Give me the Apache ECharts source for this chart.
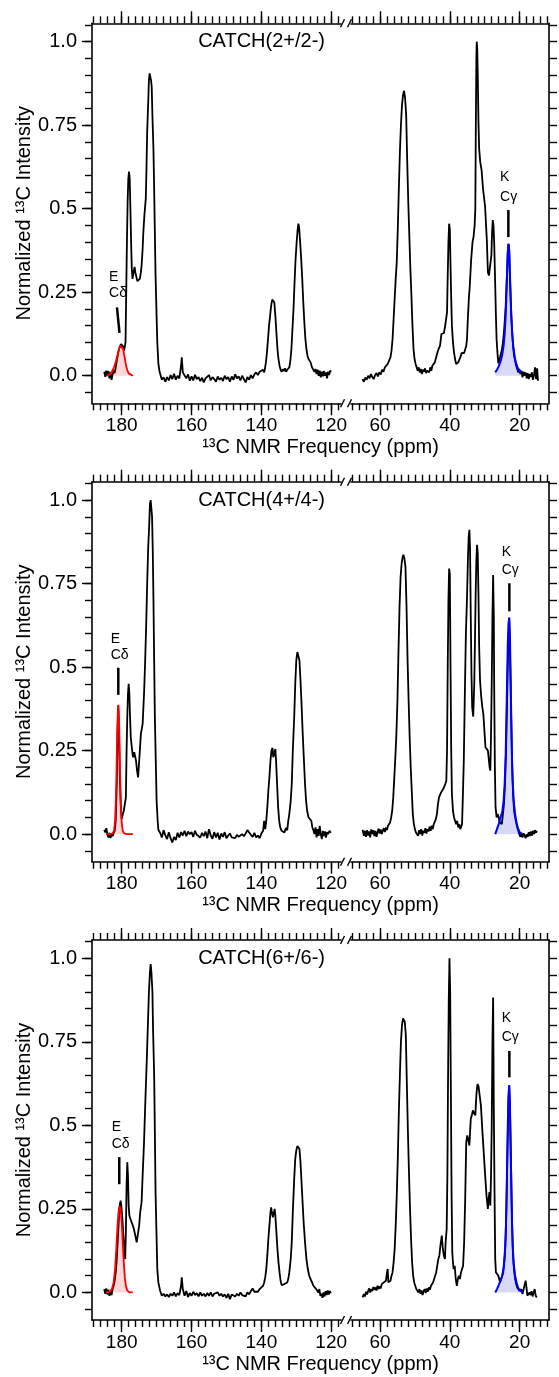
<!DOCTYPE html>
<html><head><meta charset="utf-8">
<script src="https://cdn.jsdelivr.net/npm/echarts@6/dist/echarts.min.js"></script>
<style>html,body{margin:0;padding:0;background:#fff}#c{width:559px;height:1377px}</style>
</head><body><div id="c"></div>
<script>
// ---------------- DATA (ppm, normalized intensity) ----------------
const panelTitles = ['CATCH(2+/2-)', 'CATCH(4+/4-)', 'CATCH(6+/6-)'];

const p1Left = [[185.0,0.012],[184.7,-0.003],[184.4,0.015],[184.1,0.000],[183.8,0.014],[183.5,-0.008],[183.2,0.010],[182.9,-0.012],[182.6,0.004],[182.3,0.016],[182.0,0.008],[181.7,0.025],[181.4,0.045],[181.1,0.062],[180.8,0.078],[180.5,0.088],[180.2,0.095],[179.9,0.098],[179.6,0.088],[179.3,0.075],[179.1,0.070],[178.9,0.100],[178.7,0.250],[178.5,0.400],[178.3,0.520],[178.1,0.590],[177.9,0.611],[177.7,0.590],[177.5,0.500],[177.3,0.400],[177.1,0.320],[176.9,0.290],[176.7,0.292],[176.5,0.315],[176.3,0.326],[176.1,0.310],[175.8,0.296],[175.5,0.283],[175.3,0.280],[175.0,0.283],[174.8,0.290],[174.5,0.310],[174.3,0.330],[174.0,0.380],[173.8,0.430],[173.5,0.480],[173.1,0.530],[172.9,0.620],[172.7,0.730],[172.4,0.820],[172.2,0.885],[172.0,0.905],[171.8,0.905],[171.6,0.885],[171.4,0.865],[171.2,0.780],[170.9,0.676],[170.7,0.560],[170.5,0.426],[170.3,0.300],[170.0,0.177],[169.8,0.100],[169.5,0.037],[169.2,0.015],[169.0,0.007],[168.5,-0.012],[168.0,-0.005],[167.5,-0.018],[167.0,-0.004],[166.5,-0.014],[166.0,0.002],[165.5,-0.010],[165.0,0.006],[164.5,-0.012],[164.0,0.000],[163.5,-0.008],[163.0,0.030],[162.8,0.055],[162.5,0.010],[162.0,0.012],[161.5,-0.008],[161.0,0.004],[160.5,-0.015],[160.0,-0.002],[159.5,-0.014],[159.0,0.003],[158.5,-0.010],[158.0,-0.004],[157.5,-0.016],[157.0,-0.006],[156.5,-0.020],[156.0,-0.008],[155.5,-0.012],[155.0,0.002],[154.5,-0.014],[154.0,-0.004],[153.5,-0.010],[153.0,-0.018],[152.5,-0.002],[152.0,-0.012],[151.5,-0.006],[151.0,-0.016],[150.5,0.000],[150.0,-0.010],[149.5,-0.004],[149.0,-0.018],[148.5,-0.002],[148.0,-0.012],[147.5,0.004],[147.0,-0.008],[146.5,-0.002],[146.0,-0.014],[145.5,0.000],[145.0,-0.010],[144.5,-0.020],[144.0,-0.004],[143.5,-0.012],[143.0,0.002],[142.5,-0.008],[142.0,0.004],[141.5,0.010],[141.0,0.002],[140.5,0.012],[140.0,0.008],[139.5,0.018],[139.2,0.010],[139.0,0.020],[138.7,0.040],[138.4,0.070],[138.1,0.110],[137.8,0.150],[137.5,0.180],[137.2,0.210],[136.9,0.228],[136.6,0.232],[136.3,0.220],[136.0,0.180],[135.7,0.130],[135.4,0.080],[135.1,0.050],[134.8,0.030],[134.5,0.018],[134.2,0.012],[133.8,0.020],[133.5,0.014],[133.2,0.022],[132.9,0.012],[132.6,0.018],[132.3,0.020],[132.0,0.025],[131.7,0.045],[131.4,0.080],[131.1,0.140],[130.8,0.200],[130.5,0.280],[130.2,0.350],[129.9,0.400],[129.6,0.440],[129.4,0.455],[129.2,0.445],[128.9,0.400],[128.6,0.350],[128.3,0.290],[128.0,0.220],[127.7,0.160],[127.4,0.110],[127.1,0.080],[126.8,0.060],[126.5,0.050],[126.2,0.045],[125.9,0.040],[125.5,0.025],[125.1,0.030],[124.8,0.012],[124.5,0.020],[124.2,0.005],[123.9,0.018],[123.6,0.000],[123.3,0.015],[123.0,-0.005],[122.7,0.012],[122.4,-0.002],[122.1,0.014],[121.8,0.000],[121.5,0.010],[121.2,-0.008],[120.9,0.012],[120.6,0.002],[120.3,0.016],[120.1,0.010]];

const p1Right = [[65.0,-0.010],[64.6,-0.018],[64.2,-0.005],[63.8,-0.012],[63.4,0.000],[63.0,-0.008],[62.6,0.005],[62.2,-0.004],[61.8,-0.010],[61.4,0.002],[61.0,0.008],[60.6,-0.002],[60.2,0.010],[59.8,0.004],[59.4,0.018],[59.0,0.012],[58.6,0.025],[58.2,0.020],[57.8,0.035],[57.4,0.045],[57.0,0.055],[56.7,0.075],[56.4,0.110],[56.1,0.170],[55.8,0.230],[55.5,0.290],[55.2,0.340],[54.9,0.440],[54.6,0.560],[54.3,0.670],[54.0,0.750],[53.7,0.810],[53.4,0.840],[53.1,0.853],[52.8,0.830],[52.5,0.780],[52.2,0.640],[51.9,0.520],[51.6,0.420],[51.3,0.320],[51.0,0.240],[50.7,0.150],[50.4,0.080],[50.1,0.050],[49.8,0.035],[49.5,0.030],[49.2,0.015],[48.9,0.025],[48.6,0.010],[48.3,0.020],[48.0,0.005],[47.7,0.018],[47.4,0.012],[47.1,0.022],[46.8,0.008],[46.5,0.015],[46.2,0.020],[45.9,0.010],[45.6,0.025],[45.3,0.015],[45.0,0.030],[44.7,0.028],[44.3,0.040],[43.8,0.060],[43.4,0.075],[42.8,0.090],[42.4,0.125],[42.0,0.130],[41.7,0.128],[41.4,0.145],[41.1,0.150],[40.8,0.190],[40.6,0.300],[40.4,0.400],[40.2,0.455],[40.0,0.440],[39.8,0.330],[39.6,0.230],[39.4,0.150],[39.1,0.100],[38.8,0.070],[38.5,0.050],[38.2,0.035],[37.9,0.030],[37.6,0.040],[37.3,0.045],[37.0,0.055],[36.6,0.068],[36.2,0.065],[35.9,0.068],[35.6,0.070],[35.3,0.090],[35.1,0.107],[34.8,0.180],[34.5,0.240],[34.3,0.266],[33.9,0.346],[33.5,0.400],[33.2,0.416],[32.9,0.450],[32.7,0.500],[32.55,0.750],[32.4,0.950],[32.3,1.000],[32.15,0.980],[32.0,0.900],[31.8,0.760],[31.6,0.680],[31.3,0.640],[30.9,0.615],[30.5,0.560],[29.9,0.506],[29.4,0.406],[29.1,0.310],[28.8,0.300],[28.4,0.297],[28.1,0.360],[27.9,0.430],[27.7,0.466],[27.5,0.450],[27.3,0.400],[27.0,0.270],[26.8,0.180],[26.6,0.107],[26.3,0.060],[26.1,0.037],[25.8,0.050],[25.6,0.057],[25.1,0.077],[24.8,0.100],[24.5,0.130],[24.2,0.175],[24.0,0.210],[23.7,0.290],[23.4,0.370],[23.2,0.395],[23.0,0.380],[22.8,0.300],[22.5,0.210],[22.2,0.140],[21.9,0.090],[21.6,0.060],[21.3,0.045],[21.0,0.030],[20.7,0.020],[20.4,0.010],[20.1,0.020],[19.8,0.005],[19.5,0.015],[19.2,-0.005],[18.9,0.012],[18.6,0.000],[18.3,0.010],[18.0,-0.008],[17.7,0.008],[17.4,-0.010],[17.1,0.005],[16.8,-0.004],[16.5,0.010],[16.2,-0.012],[15.9,0.002],[15.6,0.025],[15.3,-0.010],[15.0,0.022],[14.75,-0.015]];

const p1Red = [[184.3,0.000],[183.5,0.004],[182.8,0.012],[182.2,0.025],[181.7,0.042],[181.2,0.062],[180.8,0.080],[180.4,0.090],[180.0,0.092],[179.6,0.080],[179.2,0.058],[178.8,0.033],[178.4,0.017],[178.0,0.007],[177.5,0.002],[176.8,0.000]];

const p1Blue = [[27.0,0.010],[26.5,0.018],[26.0,0.028],[25.5,0.042],[25.0,0.062],[24.6,0.090],[24.3,0.125],[24.0,0.180],[23.8,0.240],[23.6,0.310],[23.4,0.370],[23.2,0.395],[23.0,0.375],[22.8,0.310],[22.6,0.240],[22.4,0.175],[22.1,0.120],[21.8,0.085],[21.4,0.055],[21.0,0.036],[20.5,0.022],[20.0,0.014],[19.6,0.010]];

const p2Left = [[185.0,0.013],[184.7,0.005],[184.4,0.018],[184.1,0.000],[183.8,-0.010],[183.5,0.004],[183.2,-0.012],[182.9,0.002],[182.6,-0.006],[182.3,0.003],[182.0,0.010],[181.7,0.040],[181.4,0.150],[181.2,0.300],[181.0,0.385],[180.8,0.320],[180.6,0.200],[180.3,0.090],[180.0,0.045],[179.7,0.050],[179.4,0.070],[179.1,0.090],[178.8,0.110],[178.6,0.250],[178.4,0.350],[178.2,0.420],[178.0,0.450],[177.8,0.420],[177.6,0.350],[177.4,0.290],[177.1,0.260],[176.9,0.240],[176.7,0.230],[176.4,0.245],[176.2,0.250],[175.9,0.220],[175.6,0.190],[175.3,0.170],[175.1,0.170],[174.8,0.250],[174.5,0.300],[174.0,0.330],[173.6,0.420],[173.3,0.510],[173.0,0.620],[172.7,0.750],[172.4,0.860],[172.1,0.930],[171.9,0.990],[171.7,1.000],[171.5,0.975],[171.3,0.950],[171.1,0.850],[170.9,0.700],[170.7,0.520],[170.5,0.350],[170.2,0.200],[170.0,0.100],[169.7,0.040],[169.5,0.013],[169.0,0.004],[168.5,-0.010],[168.0,0.012],[167.5,-0.004],[167.0,-0.015],[166.5,0.006],[166.0,-0.012],[165.5,-0.025],[165.0,-0.008],[164.5,-0.018],[164.0,0.004],[163.5,-0.010],[163.0,0.006],[162.5,-0.004],[162.0,0.010],[161.5,-0.006],[161.0,0.008],[160.5,0.000],[160.0,0.006],[159.5,-0.008],[159.0,0.010],[158.5,-0.002],[158.0,0.002],[157.5,-0.010],[157.0,0.004],[156.5,-0.006],[156.0,0.008],[155.5,-0.012],[155.0,0.015],[154.5,-0.004],[154.0,-0.014],[153.5,0.006],[153.0,-0.010],[152.5,0.004],[152.0,-0.016],[151.5,0.002],[151.0,-0.008],[150.5,0.006],[150.0,-0.012],[149.5,-0.004],[149.0,0.002],[148.5,-0.010],[148.0,-0.006],[147.5,-0.012],[147.0,-0.002],[146.5,-0.008],[146.0,-0.004],[145.5,0.000],[145.0,-0.006],[144.5,0.002],[144.0,0.012],[143.5,0.005],[143.0,-0.002],[142.5,-0.008],[142.0,0.004],[141.5,-0.010],[141.0,-0.004],[140.5,-0.012],[140.0,0.002],[139.5,0.010],[139.2,0.040],[138.9,0.015],[138.6,0.040],[138.3,0.080],[138.0,0.130],[137.7,0.170],[137.4,0.220],[137.1,0.250],[136.8,0.258],[136.6,0.230],[136.4,0.225],[136.2,0.245],[136.0,0.255],[135.8,0.220],[135.5,0.150],[135.2,0.080],[134.9,0.040],[134.6,0.020],[134.2,0.010],[133.8,0.015],[133.4,0.005],[133.0,0.018],[132.6,0.012],[132.3,0.040],[132.0,0.060],[131.6,0.100],[131.3,0.150],[131.0,0.250],[130.6,0.350],[130.3,0.450],[130.0,0.520],[129.7,0.545],[129.4,0.550],[129.1,0.520],[128.8,0.460],[128.5,0.390],[128.2,0.310],[127.9,0.240],[127.5,0.150],[127.2,0.100],[126.9,0.070],[126.5,0.050],[126.1,0.045],[125.7,0.040],[125.4,0.020],[125.1,0.012],[124.8,0.000],[124.5,0.020],[124.2,-0.010],[123.9,0.015],[123.6,-0.005],[123.3,0.025],[123.0,0.000],[122.7,-0.015],[122.4,0.010],[122.1,-0.006],[121.8,0.008],[121.5,-0.010],[121.2,0.006],[120.9,0.000],[120.5,0.010],[120.1,0.004]];

const p2Right = [[65.0,0.013],[64.6,-0.005],[64.3,0.010],[64.0,-0.008],[63.7,0.012],[63.4,-0.004],[63.1,0.008],[62.8,-0.010],[62.5,0.014],[62.2,0.000],[61.9,0.012],[61.6,-0.006],[61.3,0.010],[61.0,-0.008],[60.7,0.006],[60.4,0.016],[60.1,0.002],[59.8,0.014],[59.5,0.000],[59.2,0.010],[58.9,0.018],[58.6,0.006],[58.3,0.020],[58.0,0.012],[57.7,0.025],[57.4,0.020],[57.1,0.035],[56.8,0.050],[56.5,0.070],[56.2,0.110],[55.9,0.170],[55.6,0.230],[55.3,0.300],[55.0,0.400],[54.7,0.550],[54.4,0.680],[54.1,0.770],[53.8,0.810],[53.5,0.830],[53.3,0.836],[53.0,0.825],[52.7,0.800],[52.4,0.680],[52.1,0.520],[51.8,0.400],[51.5,0.290],[51.2,0.200],[50.9,0.130],[50.6,0.060],[50.3,0.030],[50.0,0.015],[49.7,0.005],[49.4,0.010],[49.1,-0.005],[48.8,0.012],[48.5,0.000],[48.2,0.015],[47.9,-0.004],[47.6,0.010],[47.3,0.004],[47.0,0.018],[46.7,0.002],[46.4,0.015],[46.1,0.008],[45.8,0.022],[45.5,0.010],[45.2,0.025],[44.9,0.015],[44.6,0.030],[44.3,0.035],[44.0,0.045],[43.7,0.060],[43.4,0.090],[43.1,0.110],[42.8,0.115],[42.5,0.125],[42.2,0.130],[41.9,0.135],[41.6,0.140],[41.3,0.150],[41.0,0.160],[40.8,0.250],[40.6,0.500],[40.4,0.700],[40.2,0.795],[40.0,0.780],[39.8,0.500],[39.6,0.250],[39.4,0.120],[39.1,0.070],[38.8,0.050],[38.5,0.045],[38.2,0.030],[37.9,0.040],[37.6,0.020],[37.3,0.030],[37.0,0.015],[36.7,0.018],[36.5,0.030],[36.3,0.100],[36.0,0.220],[35.7,0.420],[35.4,0.600],[35.1,0.700],[34.8,0.830],[34.6,0.890],[34.4,0.911],[34.2,0.850],[34.0,0.650],[33.8,0.480],[33.6,0.380],[33.3,0.352],[33.0,0.450],[32.8,0.580],[32.6,0.720],[32.4,0.820],[32.2,0.866],[32.0,0.840],[31.8,0.720],[31.6,0.560],[31.35,0.460],[31.0,0.410],[30.7,0.380],[30.4,0.360],[30.1,0.310],[29.8,0.260],[29.5,0.255],[29.1,0.250],[28.8,0.220],[28.6,0.200],[28.4,0.190],[28.2,0.300],[28.0,0.450],[27.8,0.650],[27.6,0.776],[27.4,0.650],[27.3,0.450],[27.1,0.200],[26.9,0.080],[26.6,0.050],[26.3,0.060],[26.0,0.050],[25.7,0.035],[25.4,0.040],[25.1,0.030],[24.8,0.060],[24.5,0.090],[24.2,0.150],[23.9,0.250],[23.6,0.400],[23.3,0.560],[23.0,0.648],[22.8,0.560],[22.5,0.400],[22.2,0.220],[21.9,0.120],[21.6,0.070],[21.3,0.050],[21.0,0.035],[20.7,0.020],[20.4,0.010],[20.1,0.000],[19.8,-0.008],[19.5,0.004],[19.2,-0.010],[18.9,0.002],[18.6,-0.004],[18.3,-0.012],[18.0,0.000],[17.7,-0.008],[17.4,0.006],[17.1,-0.006],[16.8,0.008],[16.5,-0.004],[16.2,0.010],[15.9,0.000],[15.6,0.012],[15.3,0.004],[15.1,0.010]];

const p2Red = [[184.5,0.000],[183.5,0.000],[182.6,0.002],[182.2,0.010],[181.9,0.040],[181.7,0.090],[181.5,0.180],[181.3,0.290],[181.1,0.370],[180.95,0.387],[180.8,0.360],[180.6,0.270],[180.4,0.160],[180.2,0.080],[180.0,0.035],[179.7,0.010],[179.3,0.002],[178.5,0.000],[176.8,0.000]];

const p2Blue = [[27.0,0.000],[26.5,0.015],[26.0,0.030],[25.5,0.050],[25.0,0.065],[24.6,0.100],[24.3,0.150],[24.0,0.240],[23.8,0.350],[23.6,0.460],[23.4,0.570],[23.2,0.630],[23.0,0.648],[22.8,0.600],[22.6,0.480],[22.4,0.340],[22.2,0.230],[22.0,0.160],[21.7,0.100],[21.3,0.060],[20.9,0.035],[20.5,0.018],[20.0,0.006],[19.4,0.000]];

const p3Left = [[185.0,0.010],[184.7,-0.004],[184.4,0.012],[184.1,-0.006],[183.8,0.008],[183.5,-0.010],[183.2,0.004],[182.9,-0.008],[182.6,0.010],[182.3,0.020],[182.0,0.035],[181.7,0.060],[181.4,0.100],[181.1,0.160],[180.8,0.220],[180.5,0.265],[180.3,0.275],[180.1,0.260],[179.8,0.220],[179.5,0.170],[179.2,0.120],[179.0,0.100],[178.8,0.180],[178.6,0.320],[178.4,0.390],[178.2,0.350],[178.0,0.260],[177.8,0.230],[177.5,0.220],[177.1,0.215],[176.8,0.200],[176.5,0.190],[176.1,0.170],[175.7,0.150],[175.3,0.150],[175.0,0.200],[174.7,0.240],[174.3,0.270],[174.0,0.350],[173.6,0.450],[173.2,0.580],[172.8,0.700],[172.5,0.800],[172.2,0.900],[171.9,0.960],[171.7,0.983],[171.5,0.960],[171.2,0.900],[171.0,0.780],[170.7,0.650],[170.5,0.480],[170.3,0.300],[170.0,0.160],[169.8,0.070],[169.5,0.030],[169.2,0.015],[169.0,0.005],[168.5,-0.010],[168.0,-0.004],[167.5,-0.012],[167.0,-0.006],[166.5,-0.014],[166.0,-0.004],[165.5,-0.010],[165.0,0.000],[164.5,-0.012],[164.0,-0.002],[163.5,-0.008],[163.0,0.020],[162.8,0.045],[162.5,0.010],[162.0,-0.010],[161.5,0.004],[161.0,-0.014],[160.5,-0.002],[160.0,-0.010],[159.5,0.002],[159.0,-0.008],[158.5,-0.002],[158.0,-0.012],[157.5,0.000],[157.0,-0.010],[156.5,-0.004],[156.0,-0.012],[155.5,-0.002],[155.0,-0.010],[154.5,0.000],[154.0,-0.012],[153.5,-0.004],[153.0,-0.008],[152.5,0.000],[152.0,-0.010],[151.5,-0.004],[151.0,-0.012],[150.5,-0.006],[150.0,-0.016],[149.5,-0.004],[149.0,-0.020],[148.5,-0.006],[148.0,-0.002],[147.5,-0.012],[147.0,-0.004],[146.5,-0.010],[146.0,0.000],[145.5,-0.008],[145.0,-0.004],[144.5,-0.012],[144.0,0.000],[143.5,-0.006],[143.0,0.004],[142.5,0.012],[142.0,0.002],[141.5,0.006],[141.0,0.002],[140.5,0.010],[140.0,0.008],[139.5,0.020],[139.2,0.030],[138.9,0.045],[138.6,0.070],[138.3,0.110],[138.0,0.160],[137.7,0.200],[137.4,0.240],[137.2,0.255],[137.0,0.240],[136.7,0.225],[136.5,0.235],[136.2,0.250],[136.0,0.230],[135.7,0.180],[135.4,0.130],[135.1,0.090],[134.8,0.060],[134.5,0.035],[134.2,0.022],[133.8,0.018],[133.4,0.025],[133.0,0.020],[132.6,0.030],[132.3,0.040],[132.0,0.060],[131.6,0.100],[131.3,0.150],[131.0,0.240],[130.6,0.340],[130.3,0.400],[130.0,0.425],[129.7,0.438],[129.4,0.442],[129.1,0.430],[128.8,0.390],[128.5,0.330],[128.2,0.270],[127.9,0.210],[127.5,0.150],[127.1,0.100],[126.7,0.070],[126.3,0.050],[125.9,0.040],[125.5,0.030],[125.1,0.020],[124.7,0.015],[124.3,0.010],[124.0,0.015],[123.7,0.000],[123.4,0.010],[123.1,-0.010],[122.8,-0.004],[122.5,-0.016],[122.2,0.000],[121.9,-0.012],[121.6,0.004],[121.3,-0.008],[121.0,0.006],[120.7,-0.006],[120.4,0.004],[120.1,-0.002]];

const p3Right = [[65.0,-0.015],[64.6,-0.005],[64.3,-0.012],[64.0,0.002],[63.7,-0.006],[63.4,0.004],[63.1,0.012],[62.8,0.000],[62.5,0.010],[62.2,0.004],[61.9,0.016],[61.6,0.008],[61.3,0.015],[61.0,0.006],[60.7,0.020],[60.4,0.010],[60.1,0.018],[59.8,0.012],[59.5,0.025],[59.2,0.020],[58.9,0.030],[58.6,0.025],[58.3,0.035],[58.0,0.060],[57.8,0.070],[57.6,0.030],[57.3,0.025],[57.0,0.035],[56.7,0.050],[56.4,0.060],[56.1,0.090],[55.8,0.130],[55.5,0.200],[55.2,0.290],[54.9,0.400],[54.6,0.540],[54.3,0.650],[54.0,0.750],[53.7,0.800],[53.4,0.820],[53.2,0.824],[52.9,0.810],[52.6,0.770],[52.3,0.620],[52.0,0.480],[51.7,0.360],[51.4,0.250],[51.1,0.160],[50.8,0.090],[50.5,0.050],[50.2,0.030],[49.9,0.020],[49.6,0.010],[49.3,0.015],[49.0,0.000],[48.7,0.010],[48.4,-0.004],[48.1,0.006],[47.8,-0.008],[47.5,0.004],[47.2,0.010],[46.9,-0.002],[46.6,0.012],[46.3,0.002],[46.0,0.015],[45.7,0.008],[45.4,0.020],[45.1,0.015],[44.8,0.030],[44.5,0.040],[44.2,0.050],[43.9,0.060],[43.6,0.080],[43.3,0.100],[43.0,0.110],[42.7,0.140],[42.3,0.170],[42.0,0.130],[41.7,0.110],[41.4,0.100],[41.2,0.150],[40.9,0.190],[40.7,0.350],[40.5,0.650],[40.3,0.880],[40.1,1.000],[39.9,0.900],[39.7,0.600],[39.5,0.300],[39.3,0.120],[39.1,0.090],[38.9,0.070],[38.6,0.080],[38.3,0.040],[38.0,0.020],[37.7,0.040],[37.4,0.050],[37.1,0.040],[36.8,0.060],[36.5,0.070],[36.2,0.080],[35.9,0.150],[35.6,0.280],[35.3,0.450],[35.0,0.470],[34.8,0.465],[34.6,0.470],[34.4,0.440],[34.2,0.480],[34.0,0.520],[33.7,0.530],[33.4,0.545],[33.2,0.550],[32.9,0.540],[32.7,0.530],[32.4,0.590],[32.1,0.624],[31.8,0.618],[31.5,0.615],[31.1,0.560],[30.6,0.470],[30.0,0.370],[29.5,0.290],[29.1,0.250],[28.9,0.280],[28.65,0.300],[28.4,0.260],[28.2,0.350],[28.0,0.500],[27.8,0.750],[27.6,0.883],[27.4,0.550],[27.2,0.300],[27.0,0.100],[26.8,0.060],[26.5,0.055],[26.1,0.050],[25.6,0.030],[25.3,0.040],[25.0,0.040],[24.7,0.060],[24.4,0.090],[24.1,0.140],[23.8,0.250],[23.5,0.420],[23.2,0.570],[23.0,0.620],[22.8,0.560],[22.5,0.400],[22.2,0.220],[21.9,0.110],[21.6,0.065],[21.3,0.040],[21.0,0.025],[20.7,0.015],[20.4,0.010],[20.1,0.005],[19.8,0.000],[19.5,0.010],[19.2,-0.005],[18.9,0.008],[18.6,0.012],[18.3,0.035],[18.1,0.020],[17.8,-0.010],[17.5,-0.015],[17.2,0.000],[16.9,-0.008],[16.6,0.004],[16.3,-0.012],[16.0,0.000],[15.7,0.010],[15.4,-0.010],[15.1,-0.015]];

const p3Red = [[184.5,0.000],[183.5,0.002],[182.8,0.010],[182.3,0.030],[181.9,0.070],[181.6,0.120],[181.3,0.180],[181.0,0.230],[180.7,0.258],[180.5,0.262],[180.3,0.250],[180.0,0.210],[179.7,0.150],[179.4,0.090],[179.1,0.045],[178.8,0.020],[178.4,0.006],[177.8,0.000],[176.8,0.000]];

const p3Blue = [[27.0,0.000],[26.5,0.010],[26.0,0.022],[25.5,0.035],[25.0,0.050],[24.6,0.075],[24.3,0.110],[24.0,0.170],[23.8,0.260],[23.6,0.380],[23.4,0.500],[23.2,0.590],[23.0,0.620],[22.8,0.570],[22.6,0.450],[22.4,0.320],[22.2,0.210],[22.0,0.140],[21.7,0.085],[21.3,0.050],[20.9,0.030],[20.5,0.016],[20.0,0.006],[19.4,0.002],[18.9,0.000]];

// tick values / labels
const xMajorLeft = [180, 160, 140, 120];
const xMajorRight = [60, 40, 20];
const xMinorLeft = [188,186,184,182,180,178,176,174,172,170,168,166,164,162,160,158,156,154,152,150,148,146,144,142,140,138,136,134,132,130,128,126,124,122,120,118];
const xMinorRight = [68,66,64,62,60,58,56,54,52,50,48,46,44,42,40,38,36,34,32,30,28,26,24,22,20,18,16,14,12];
const yMajor = [0, 0.25, 0.5, 0.75, 1];
const yMajorLabels = ['0.0', '0.25', '0.5', '0.75', '1.0'];
const yMinor = [-0.05,0,0.05,0.1,0.15,0.2,0.25,0.3,0.35,0.4,0.45,0.5,0.55,0.6,0.65,0.7,0.75,0.8,0.85,0.9,0.95,1,1.05];

const panels = [
  {title: panelTitles[0], left: p1Left, right: p1Right, red: p1Red, blue: p1Blue},
  {title: panelTitles[1], left: p2Left, right: p2Right, red: p2Red, blue: p2Blue},
  {title: panelTitles[2], left: p3Left, right: p3Right, red: p3Red, blue: p3Blue}
];

// annotation anchors (data coordinates)
const annoE = [
  {t1: [183.6, 0.294], t2: [183.6, 0.248], a: [181.35, 0.205], b: [180.63, 0.128]},
  {t1: [183.15, 0.585], t2: [183.15, 0.537], a: [180.97, 0.498], b: [180.97, 0.417]},
  {t1: [182.87, 0.495], t2: [182.87, 0.444], a: [180.69, 0.405], b: [180.69, 0.324]}
];
const annoK = [
  {t1: [25.62, 0.593], t2: [25.62, 0.536], a: [23.24, 0.496], b: [23.24, 0.415]},
  {t1: [25.13, 0.844], t2: [25.13, 0.791], a: [22.95, 0.751], b: [22.95, 0.667]},
  {t1: [25.13, 0.821], t2: [25.13, 0.763], a: [22.95, 0.723], b: [22.95, 0.644]}
];
const titleAnchor = [158.1, 1.0];

// ---------------- LAYOUT ----------------
const FONT = '"Liberation Sans", Arial, sans-serif';
const LAY = {left: 92, breakL: 341, breakR: 351, right: 549, tops: [23.3, 481.7, 940], h: 380};
const XL = {max: 188.5, min: 117.2};
const XR = {max: 68.3, min: 11.6};
const Y = {min: -0.0825, max: 1.055};
const LINE = {color: '#000', width: 1.6};

const grids = [], xAxes = [], yAxes = [], series = [];
const idx = [];

function xAxis(grid, rng, pos, ticks, len, labels, lineShow) {
  xAxes.push({
    type: 'value', gridIndex: grid, position: pos, inverse: true, min: rng.min, max: rng.max,
    axisLine: {show: lineShow, onZero: false, lineStyle: LINE},
    axisTick: {show: true, inside: false, length: len, customValues: ticks, lineStyle: {color: '#000', width: 1.4}},
    axisLabel: labels ? {show: true, customValues: labels, color: '#000', fontSize: 19, fontFamily: FONT, margin: 13} : {show: false},
    splitLine: {show: false}
  });
  return xAxes.length - 1;
}
function yAxis(grid, pos, ticks, len, labels, lineShow, extra) {
  yAxes.push(Object.assign({
    type: 'value', gridIndex: grid, position: pos, min: Y.min, max: Y.max,
    axisLine: {show: lineShow, onZero: false, lineStyle: LINE},
    axisTick: {show: true, inside: false, length: len, customValues: ticks, lineStyle: {color: '#000', width: 1.4}},
    axisLabel: labels ? {show: true, customValues: labels, color: '#000', fontSize: 20, fontFamily: FONT, margin: 15,
      formatter: v => { const i = yMajor.findIndex(t => Math.abs(t - v) < 1e-9); return i >= 0 ? yMajorLabels[i] : ''; }} : {show: false},
    splitLine: {show: false}
  }, extra || {}));
  return yAxes.length - 1;
}

panels.forEach((p, k) => {
  const top = LAY.tops[k];
  const gL = grids.length;
  grids.push({left: LAY.left, top: top, width: LAY.breakL - LAY.left, height: LAY.h});
  const gR = grids.length;
  grids.push({left: LAY.breakR, top: top, width: LAY.right - LAY.breakR, height: LAY.h});

  const xL = xAxis(gL, XL, 'bottom', xMajorLeft, 12, xMajorLeft, true);
  xAxis(gL, XL, 'bottom', xMinorLeft, 7, null, false);
  xAxis(gL, XL, 'top', xMajorLeft, 12, null, true);
  xAxis(gL, XL, 'top', xMinorLeft, 7, null, false);
  const xR = xAxis(gR, XR, 'bottom', xMajorRight, 12, xMajorRight, true);
  xAxis(gR, XR, 'bottom', xMinorRight, 7, null, false);
  xAxis(gR, XR, 'top', xMajorRight, 12, null, true);
  xAxis(gR, XR, 'top', xMinorRight, 7, null, false);

  const yL = yAxis(gL, 'left', yMajor, 10, yMajor, true, {
    name: 'Normalized \u00B9\u00B3C Intensity', nameLocation: 'middle', nameGap: 58, nameRotate: 90,
    nameTextStyle: {color: '#000', fontSize: 20, fontFamily: FONT}
  });
  yAxis(gL, 'left', yMinor, 7, null, false);
  const yR = yAxis(gR, 'right', yMinor, 8, null, true);
  idx.push({xL, yL, xR, yR});

  const base = {type: 'line', showSymbol: false, symbol: 'none', animation: false, silent: true};
  series.push(Object.assign({}, base, {xAxisIndex: xL, yAxisIndex: yL, data: p.left, lineStyle: {color: '#000', width: 1.8}, z: 2}));
  series.push(Object.assign({}, base, {xAxisIndex: xR, yAxisIndex: yR, data: p.right, lineStyle: {color: '#000', width: 1.8}, z: 2}));
  series.push(Object.assign({}, base, {xAxisIndex: xL, yAxisIndex: yL, data: p.red, lineStyle: {color: '#ff0000', width: 1.8},
    areaStyle: {color: 'rgba(255,0,0,0.22)'}, z: 3}));
  series.push(Object.assign({}, base, {xAxisIndex: xR, yAxisIndex: yR, data: p.blue, lineStyle: {color: '#0000ff', width: 2},
    areaStyle: {color: 'rgba(0,0,230,0.22)'}, z: 3}));
});

const chart = echarts.init(document.getElementById('c'), null, {renderer: 'canvas'});
chart.setOption({animation: false, backgroundColor: '#fff', grid: grids, xAxis: xAxes, yAxis: yAxes, series: series});

// ---------------- ANNOTATIONS ----------------
const g = [];
function px(xi, yi, pt) { return chart.convertToPixel({xAxisIndex: xi, yAxisIndex: yi}, pt); }
function txt(pos, text, size, align) {
  g.push({type: 'text', z: 10, style: {text: text, x: pos[0], y: pos[1], fill: '#000', font: size + 'px ' + FONT, align: align || 'left', verticalAlign: 'middle'}});
}
function seg(a, b, w) {
  g.push({type: 'line', z: 10, shape: {x1: a[0], y1: a[1], x2: b[0], y2: b[1]}, style: {stroke: '#000', lineWidth: w}});
}
panels.forEach((p, k) => {
  const ix = idx[k];
  txt(px(ix.xL, ix.yL, titleAnchor), p.title, 20);
  const e = annoE[k], kk = annoK[k];
  txt(px(ix.xL, ix.yL, e.t1), 'E', 14);
  txt(px(ix.xL, ix.yL, e.t2), 'C\u03B4', 14);
  seg(px(ix.xL, ix.yL, e.a), px(ix.xL, ix.yL, e.b), 2.5);
  txt(px(ix.xR, ix.yR, kk.t1), 'K', 14);
  txt(px(ix.xR, ix.yR, kk.t2), 'C\u03B3', 14);
  seg(px(ix.xR, ix.yR, kk.a), px(ix.xR, ix.yR, kk.b), 2.5);
  // x-axis title
  const top = LAY.tops[k];
  txt([(LAY.left + LAY.right) / 2, top + LAY.h + 44], '\u00B9\u00B3C NMR Frequency (ppm)', 20, 'center');
  // axis break marks
  [top, top + LAY.h].forEach(yy => {
    seg([LAY.breakL - 0.5, yy + 4], [LAY.breakL + 3.5, yy - 4], 1.4);
    seg([LAY.breakR - 3.5, yy + 4], [LAY.breakR + 0.5, yy - 4], 1.4);
  });
});
chart.setOption({graphic: g});
</script></body></html>
